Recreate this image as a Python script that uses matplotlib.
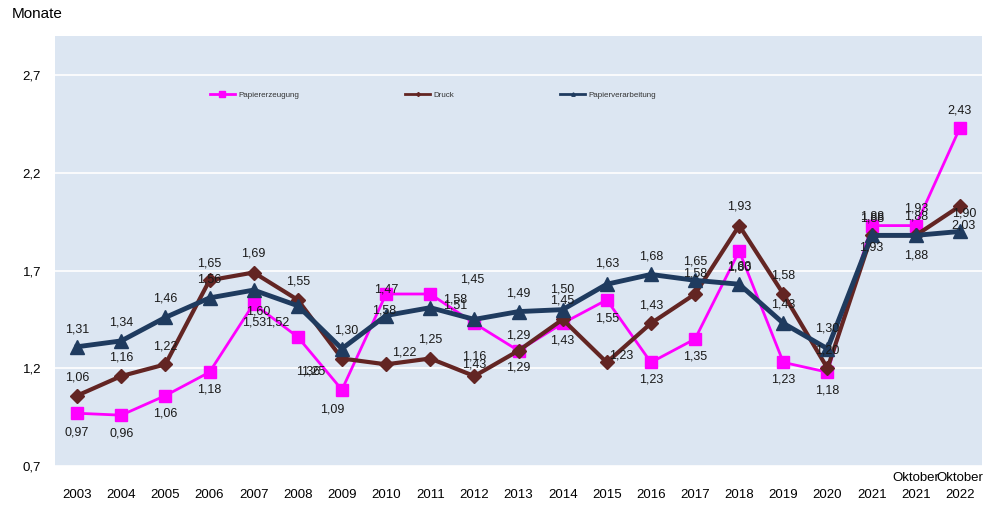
import matplotlib.pyplot as plt
from matplotlib.lines import Line2D

# Lagerreichweite in Monaten
years = ['2003', '2004', '2005', '2006', '2007', '2008', '2009', '2010', '2011', '2012',
         '2013', '2014', '2015', '2016', '2017', '2018', '2019', '2020', '2021', '2021', '2022']
oktober = [False] * 19 + [True, True]

papiererzeugung = [0.97, 0.96, 1.06, 1.18, 1.53, 1.36, 1.09, 1.58, 1.58, 1.43, 1.29,
                   1.43, 1.55, 1.23, 1.35, 1.80, 1.23, 1.18, 1.93, 1.93, 2.43]
druck = [1.06, 1.16, 1.22, 1.65, 1.69, 1.55, 1.25, 1.22, 1.25, 1.16, 1.29,
         1.45, 1.23, 1.43, 1.58, 1.93, 1.58, 1.20, 1.88, 1.88, 2.03]
papierverarbeitung = [1.31, 1.34, 1.46, 1.56, 1.60, 1.52, 1.30, 1.47, 1.51, 1.45, 1.49,
                      1.50, 1.63, 1.68, 1.65, 1.63, 1.43, 1.30, 1.88, 1.88, 1.90]

# Datenbeschriftungen wie im Original angezeigt
lab_pe = ['0,97', '0,96', '1,06', '1,18', '1,53', '1,36', '1,09', '1,47', '1,58', '1,43', '1,29',
          '1,43', '1,55', '1,23', '1,35', '1,80', '1,23', '1,18', '1,88', '1,93', '2,43']
lab_dr = ['1,06', '1,16', '1,22', '1,65', '1,69', '1,55', '1,25', '1,22', '1,25', '1,16', '1,29',
          '1,45', '1,23', '1,43', '1,58', '1,93', '1,58', '1,20', '1,88', '1,88', '1,90']
lab_pv = ['1,31', '1,34', '1,46', '1,56', '1,60', '1,52', '1,30', '1,58', '1,51', '1,45', '1,49',
          '1,50', '1,63', '1,68', '1,65', '1,63', '1,43', '1,30', '1,93', '1,88', '2,03']

# label offsets in pixels (dx, dy)
off_pe = [(0, -19), (0, -18), (0, -18), (0, -17), (0, -19), (10, -35), (-10, -20), (0, 4),
          (25, -6), (0, -41), (0, 15), (0, -17), (0, -19), (0, -17), (0, -18), (0, -17),
          (0, -17), (0, -18), (0, 9), (0, 17), (0, 17)]
off_dr = [(0, 18), (0, 19), (0, 18), (0, 17), (0, 19), (0, 18), (-29, -13), (18, 12),
          (0, 19), (0, 20), (0, -17), (0, 19), (14, 7), (0, 18), (0, 20), (0, 19),
          (0, 18), (0, 18), (0, 17), (0, 19), (4, -7)]
off_pv = [(0, 17), (0, 18), (0, 19), (0, 18), (5, -21), (-21, -17), (4, 18), (-2, 5),
          (25, 2), (-2, 40), (0, 18), (0, 20), (0, 21), (0, 18), (0, 19), (0, 18),
          (0, 19), (0, 20), (0, -12), (0, -20), (4, 6)]

plt.rcParams['font.family'] = ['Liberation Sans', 'DejaVu Sans']

fig = plt.figure(figsize=(10.02, 5.16), dpi=100)
ax = fig.add_axes([55 / 1002, 50 / 516, 927 / 1002, 430 / 516])
ax.set_facecolor('#dce6f2')

x = list(range(len(years)))
c_pe, c_dr, c_pv = '#ff00ff', '#632523', '#1f3b5f'

ax.plot(x, papiererzeugung, color=c_pe, lw=2, marker='s', ms=8, zorder=3)
ax.plot(x, druck, color=c_dr, lw=3, marker='D', ms=7, zorder=4)
ax.plot(x, papierverarbeitung, color=c_pv, lw=3.5, marker='^', ms=10, zorder=5)

for vals, labs, offs in [(papiererzeugung, lab_pe, off_pe), (druck, lab_dr, off_dr),
                         (papierverarbeitung, lab_pv, off_pv)]:
    for i in x:
        ax.annotate(labs[i], (i, vals[i]), xytext=offs[i], textcoords='offset pixels',
                    ha='center', va='center', fontsize=9, color='#1a1a1a', zorder=6)

ax.set_xlim(-0.5, len(years) - 0.5)
ax.set_ylim(0.7, 2.9)
yt = [0.7, 1.2, 1.7, 2.2, 2.7]
ax.set_yticks(yt)
ax.set_yticklabels([f'{v:.1f}'.replace('.', ',') for v in yt], fontsize=9.5)
ax.set_xticks(x)
ax.set_xticklabels([('Oktober' if o else '') + '\n' + y for y, o in zip(years, oktober)],
                   fontsize=9.5, linespacing=1.6)
ax.tick_params(length=0, pad=10)
ax.tick_params(axis='x', pad=4)
ax.grid(axis='y', color='white', lw=1.2)
ax.set_axisbelow(True)
for s in ax.spines.values():
    s.set_visible(False)

handles = [Line2D([], [], color=c_pe, lw=2, marker='s', ms=4),
           Line2D([], [], color=c_dr, lw=2, marker='D', ms=2),
           Line2D([], [], color=c_pv, lw=2, marker='^', ms=2.5)]
ax.legend(handles, ['Papiererzeugung', 'Druck', 'Papierverarbeitung'], ncol=3,
          loc='center left', bbox_to_anchor=(0.167, 0.863), frameon=False, fontsize=5.8,
          handlelength=3.1, handletextpad=0.4, columnspacing=13.2, borderpad=0,
          borderaxespad=0, labelcolor='#333333')

fig.text(12 / 1002, 1 - 14 / 516, 'Monate', fontsize=11, va='center', ha='left')

fig.savefig('out.png', dpi=100)
